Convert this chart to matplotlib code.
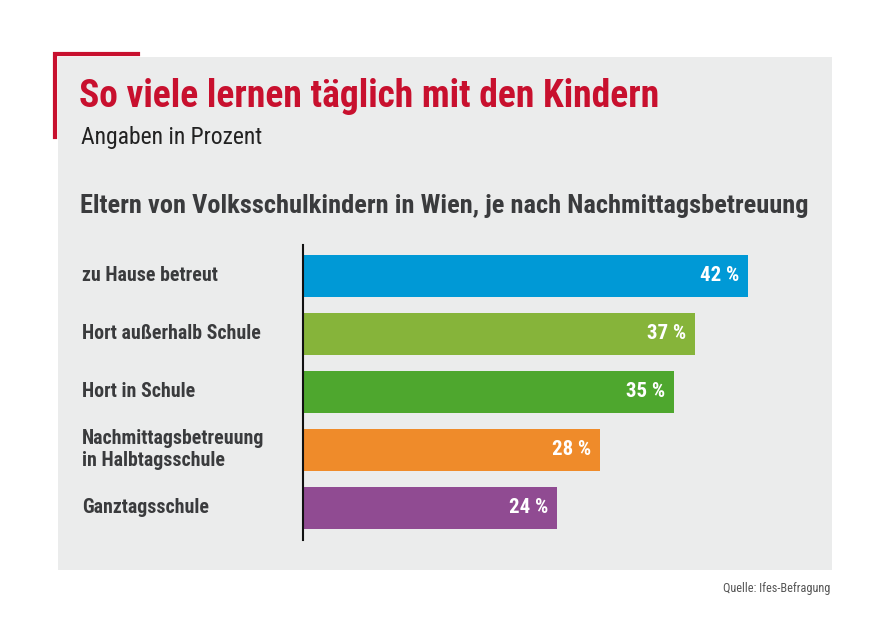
import matplotlib
matplotlib.use("Agg")
import matplotlib.pyplot as plt
from matplotlib.patches import Rectangle
from matplotlib.lines import Line2D

W, H = 890, 629

categories = [
    "zu Hause betreut",
    "Hort außerhalb Schule",
    "Hort in Schule",
    "Nachmittagsbetreuung\nin Halbtagsschule",
    "Ganztagsschule",
]
values = [42, 37, 35, 28, 24]
colors = ["#0099d6", "#86b43a", "#4ea72e", "#ef8b2a", "#904b92"]

title = "So viele lernen täglich mit den Kindern"
subtitle = "Angaben in Prozent"
heading = "Eltern von Volksschulkindern in Wien, je nach Nachmittagsbetreuung"
source = "Quelle: Ifes-Befragung"

plt.rcParams["font.family"] = ["Roboto Condensed", "Archivo Narrow", "Liberation Sans"]

RED = "#c8102e"
DARK = "#3a3b3d"
PANEL = "#ebecec"


def fx(x):
    return x / W


def fy(y):
    return 1 - y / H


fig = plt.figure(figsize=(W / 100, H / 100), dpi=100)
fig.patch.set_facecolor("white")

# grey panel
fig.patches.append(Rectangle((fx(58), fy(570)), fx(832) - fx(58), fy(57) - fy(570),
                             transform=fig.transFigure, facecolor=PANEL, edgecolor="none", zorder=-2))
# red corner bracket
fig.lines.append(Line2D([fx(55), fx(55), fx(138)], [fy(137), fy(54), fy(54)],
                        transform=fig.transFigure, color=RED, lw=3, solid_joinstyle="miter",
                        zorder=-1))

fig.text(fx(79), fy(107), title, color=RED, fontsize=27, fontweight="bold", va="baseline")
fig.text(fx(81), fy(144), subtitle, color="#222222", fontsize=17, va="baseline")
fig.text(fx(80), fy(213), heading, color=DARK, fontsize=19, fontweight="bold", va="baseline")
fig.text(fx(830), fy(592), source, color="#555555", fontsize=8.8, ha="right", va="baseline")

ax = fig.add_axes([fx(303), fy(540), fx(832) - fx(303), fy(245) - fy(540)])
ax.set_facecolor("none")
pos = list(range(len(values)))
ax.barh(pos, values, height=0.724, color=colors, zorder=2)
ax.set_xlim(0, (832 - 303) / 10.6)
ax.set_ylim(len(values) - 1 + 0.552, -0.534)

for y, v in zip(pos, values):
    ax.text(v - 0.85, y, f"{v} %", color="white", fontsize=15, fontweight="bold",
            ha="right", va="center")
    ax.text(-(303 - 82) / 10.6, y, categories[y], color=DARK, fontsize=14.3,
            fontweight="bold", ha="left", va="center", linespacing=1.2)

for s in ["top", "right", "bottom"]:
    ax.spines[s].set_visible(False)
ax.spines["left"].set_linewidth(1.5)
ax.spines["left"].set_color("#111111")
ax.set_xticks([])
ax.set_yticks([])

fig.savefig("out.png", dpi=100)
